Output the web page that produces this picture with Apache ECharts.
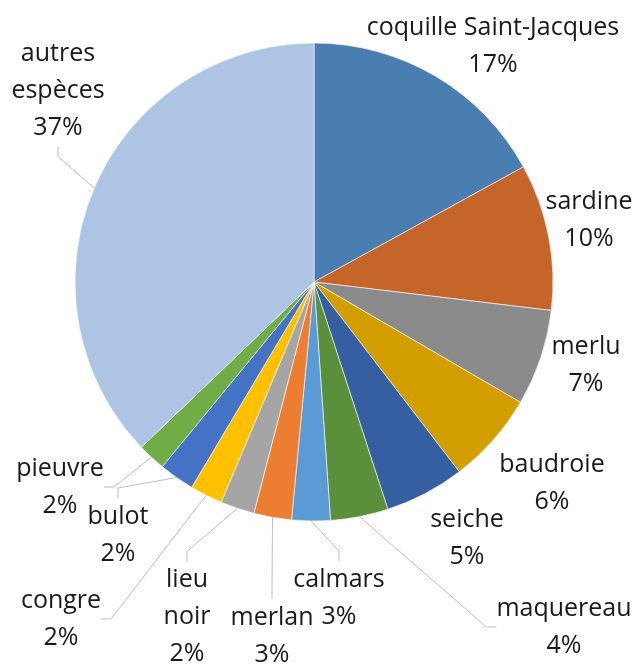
<!DOCTYPE html>
<html>
<head>
<meta charset="utf-8">
<script src="https://cdn.jsdelivr.net/npm/echarts@6/dist/echarts.min.js"></script>
<style>
  html, body { margin: 0; padding: 0; background: #fff; }
  #chart { width: 640px; height: 664px; }
</style>
</head>
<body>
<div id="chart"></div>
<script>
  // espèces et parts (en %), sens horaire depuis midi
  const especes = [
    'coquille Saint-Jacques', 'sardine', 'merlu', 'baudroie', 'seiche', 'maquereau',
    'calmars', 'merlan', 'lieu\nnoir', 'congre', 'bulot', 'pieuvre', 'autres\nespèces'
  ];
  const parts = [17.0, 9.9, 6.5, 6.2, 5.4, 3.9, 2.6, 2.55, 2.3, 2.2, 2.4, 1.9, 37.15];
  const couleurs = [
    '#4a7eb1', '#c5652a', '#8b8b8b', '#d39e00', '#355fa0', '#5a8f3b',
    '#5b9bd5', '#ed7d31', '#a5a5a5', '#ffc000', '#4472c4', '#70ad47', '#aec4e5'
  ];
  // centre des étiquettes
  const etiqPos = [
    [493, 46], [589, 220], [586, 365], [552, 483], [467, 538], [564, 627],
    [339, 598], [272, 636], [187, 617], [61, 619], [118, 535], [60, 487], [58, 91]
  ];
  // étiquettes collées à leur part : pas de trait de rappel
  const sansTrait = [0, 1, 2, 3, 4];

  const total = parts.reduce((s, v) => s + v, 0);

  const chart = echarts.init(document.getElementById('chart'));
  chart.setOption({
    backgroundColor: '#fff',
    animation: false,
    series: [{
      type: 'pie',
      center: [314, 282],
      radius: 239,
      startAngle: 90,
      clockwise: true,
      avoidLabelOverlap: false,
      itemStyle: { borderColor: '#fff', borderWidth: 0.6 },
      label: {
        position: 'outside',
        color: '#1a1a1a',
        fontFamily: 'Open Sans',
        fontSize: 25,
        lineHeight: 37,
        align: 'center',
        formatter: p => p.name + '\n' + Math.round(p.value / total * 100) + '%'
      },
      labelLine: {
        show: true,
        length: 10,
        length2: 10,
        lineStyle: { color: '#bfbfbf', width: 1 }
      },
      labelLayout: p => ({
        x: etiqPos[p.dataIndex][0],
        y: etiqPos[p.dataIndex][1],
        align: 'center',
        verticalAlign: 'middle'
      }),
      data: especes.map((nom, i) => ({
        name: nom,
        value: parts[i],
        itemStyle: { color: couleurs[i] },
        labelLine: { show: sansTrait.indexOf(i) < 0 }
      }))
    }]
  });
</script>
</body>
</html>
